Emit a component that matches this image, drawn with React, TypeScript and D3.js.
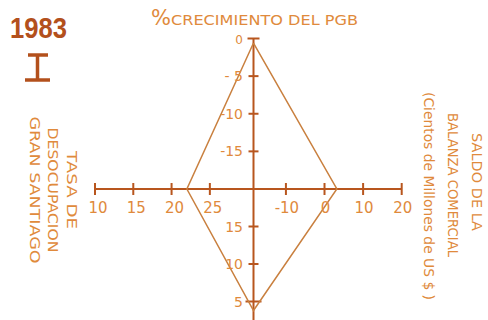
import React from "react";
import * as d3 from "d3";

// ---- data ----
const year = "1983";
const quarter = "I";
const axisNames = ["crecimiento", "desocupacion", "balanza", "inferior"];
const crecimientoPGB = -0.6; // top axis
const tasaDesocupacion = 22.0; // left axis
const saldoBalanza = 3.2; // right axis
const inferiorValue = 3.8; // bottom axis
const topTicks = [0, -5, -10, -15];
const leftTicks = [10, 15, 20, 25];
const rightTicks = [-10, 0, 10, 20];
const bottomTicks = [15, 10, 5];
const topTickLabels = ["0", "- 5", "-10", "-15"];
const leftTickLabels = ["10", "15", "20", "25"];
const rightTickLabels = ["-10", "0", "10", "20"];
const bottomTickLabels = ["15", "10", "5"];
const titleTop = "CRECIMIENTO DEL PGB";
const leftLabel = ["TASA  DE", "DESOCUPACION", "GRAN  SANTIAGO"];
const rightLabel = ["SALDO  DE  LA", "BALANZA COMERCIAL", "(Cientos de Millones de US $ )"];

const W = 488;
const H = 320;
const cx = 253.5;
const cy = 189;

const AXIS = "#b8561e";
const TEXT = "#e08a3c";
const POLY = "#c9803f";
const FONT = "DejaVu Sans, sans-serif";

export default function App() {
  const yTop = d3.scaleLinear().domain([0, -20]).range([38.5, cy]);
  const yBottom = d3.scaleLinear().domain([20, 5]).range([cy, 301.5]);
  const xLeft = d3.scaleLinear().domain([10, 30.7]).range([95, cx]);
  const xRight = d3.scaleLinear().domain([-18.4, 20]).range([cx, 401.7]);

  const pts: [number, number][] = [
    [cx, yTop(crecimientoPGB)],
    [xRight(saldoBalanza), cy],
    [cx, yBottom(inferiorValue)],
    [xLeft(tasaDesocupacion), cy],
  ];
  const poly = d3.line()(pts.concat([pts[0]])) || "";

  return (
    <svg
      width={W}
      height={H}
      style={{ position: "absolute", left: 0, top: 0, background: "#fff" }}
      data-axes={axisNames.join(",")}
    >
      {/* year and quarter */}
      <text x={10} y={38} fontFamily="Liberation Sans, Arial, sans-serif" fontWeight="bold" fontSize={30}
        fill="#b3501c" textLength={57} lengthAdjust="spacingAndGlyphs">{year}</text>
      <g stroke="#b3501c" strokeWidth={3.5} aria-label={quarter}>
        <line x1={28} x2={48} y1={55} y2={55} />
        <line x1={37.5} x2={37.5} y1={55} y2={80} />
        <line x1={25} x2={50} y1={80} y2={80} />
      </g>

      {/* top title */}
      <text x={151} y={25} fontFamily={FONT} fill={TEXT}>
        <tspan fontSize={21}>%</tspan>
      </text>
      <text x={171} y={25} fontFamily={FONT} fontSize={14} fill={TEXT} textLength={187} lengthAdjust="spacingAndGlyphs">{titleTop}</text>

      {/* left label */}
      {leftLabel.map((t, i) => {
        const bx = [67, 47.5, 30][i];
        const len = [78, 125, 147][i];
        return (
          <text key={t} transform={`translate(${bx},190) rotate(90)`} textAnchor="middle" fontFamily={FONT}
            fontSize={14} fill={TEXT} textLength={len} lengthAdjust="spacingAndGlyphs">{t}</text>
        );
      })}

      {/* right label */}
      {rightLabel.map((t, i) => {
        const bx = [471.5, 447.5, 424][i];
        const cyL = [182, 185, 196][i];
        const len = [98, 144, 208][i];
        return (
          <text key={t} transform={`translate(${bx},${cyL}) rotate(90)`} textAnchor="middle" fontFamily={FONT}
            fontSize={14} fill={TEXT} textLength={len} lengthAdjust="spacingAndGlyphs">{t}</text>
        );
      })}

      {/* axes lines */}
      <g stroke={AXIS} strokeWidth={2}>
        <line x1={xLeft(10)} x2={xRight(20)} y1={cy} y2={cy} />
        <line x1={cx} x2={cx} y1={yTop(0)} y2={H} />
        {/* top cap */}
        <line x1={cx - 6} x2={cx + 6} y1={yTop(0)} y2={yTop(0)} />
        {topTicks.slice(1).map((v) => (
          <line key={"t" + v} x1={cx - 5} x2={cx + 5} y1={yTop(v)} y2={yTop(v)} />
        ))}
        {bottomTicks.map((v, i) => {
          const hw = i === bottomTicks.length - 1 ? 8 : 5;
          return <line key={"b" + v} x1={cx - hw} x2={cx + hw} y1={yBottom(v)} y2={yBottom(v)} />;
        })}
        {leftTicks.map((v) => (
          <line key={"l" + v} x1={xLeft(v)} x2={xLeft(v)} y1={cy - 6} y2={cy + 6} />
        ))}
        {rightTicks.map((v) => (
          <line key={"r" + v} x1={xRight(v)} x2={xRight(v)} y1={cy - 6} y2={cy + 6} />
        ))}
      </g>

      {/* polygon */}
      <path d={poly} fill="none" stroke={POLY} strokeWidth={1.5} />

      {/* tick labels */}
      <g fontFamily={FONT} fontSize={14} fill={TEXT}>
        {topTicks.map((v, i) => (
          <text key={"tl" + v} x={243} y={yTop(v) + 5} textAnchor="end" fontSize={i === 0 ? 12 : 14}>{topTickLabels[i]}</text>
        ))}
        {bottomTicks.map((v, i) => (
          <text key={"bl" + v} x={243} y={yBottom(v) + 5} textAnchor="end">{bottomTickLabels[i]}</text>
        ))}
        {leftTicks.map((v, i) => (
          <text key={"ll" + v} x={xLeft(v) + 3} y={213} textAnchor="middle" fontSize={15}>{leftTickLabels[i]}</text>
        ))}
        {rightTicks.map((v, i) => (
          <text key={"rl" + v} x={xRight(v) + 1} y={213} textAnchor="middle" fontSize={15}>{rightTickLabels[i]}</text>
        ))}
      </g>
    </svg>
  );
}
